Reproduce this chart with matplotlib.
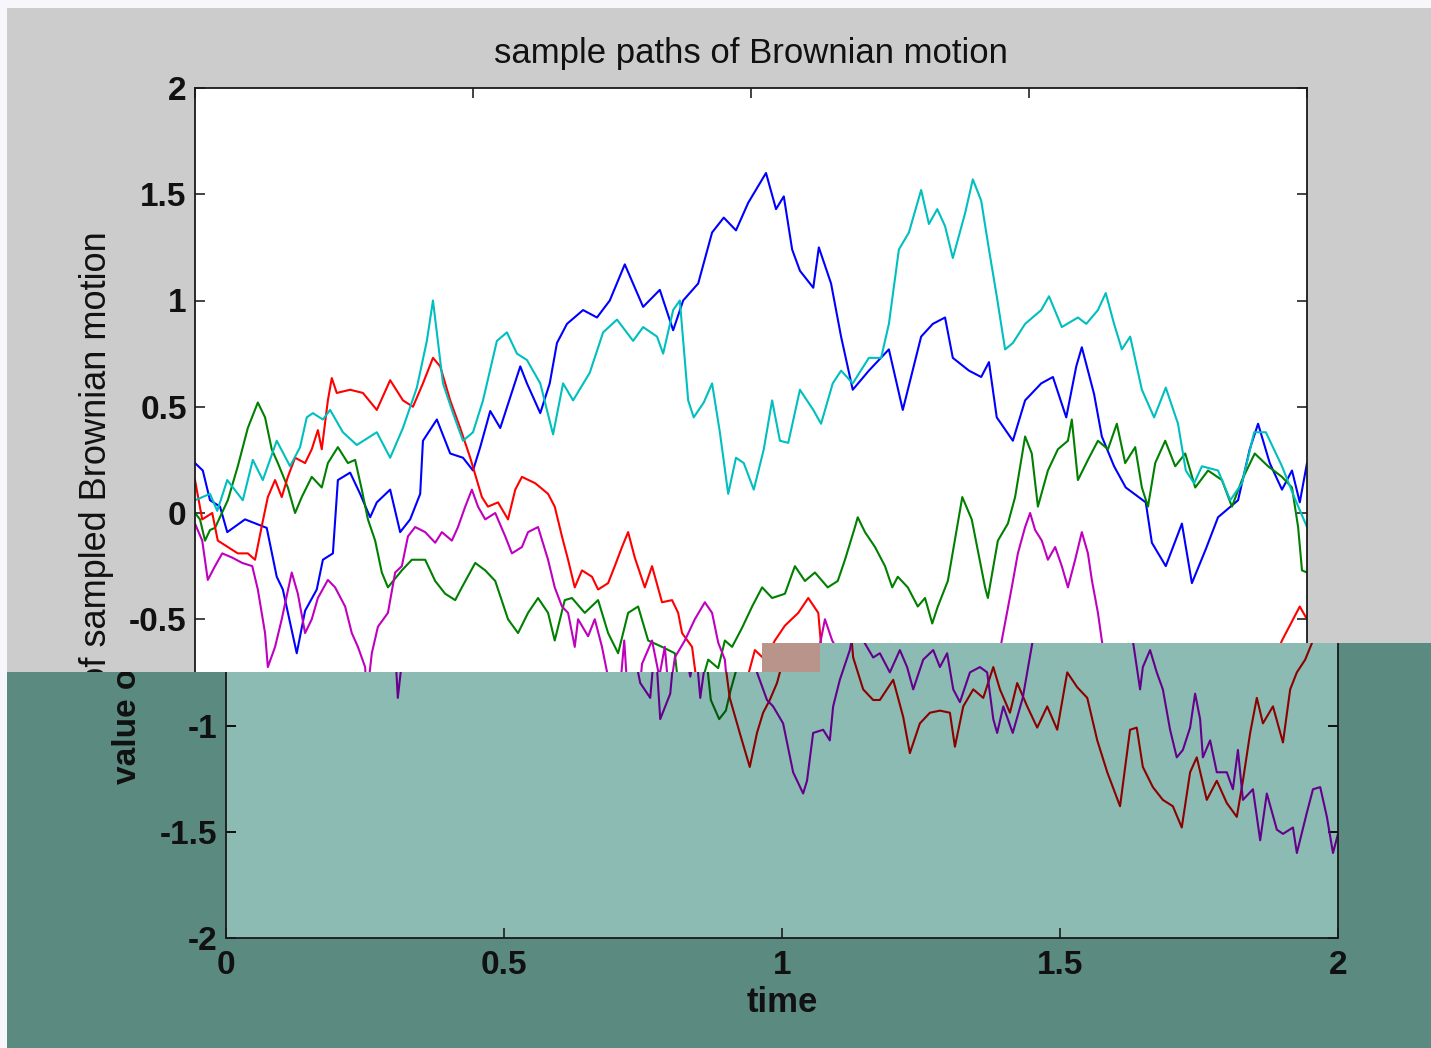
import numpy as np
import matplotlib
matplotlib.use('Agg')
import matplotlib.pyplot as plt
from matplotlib.patches import Polygon, Rectangle
from matplotlib.transforms import Bbox

plt.rcParams['font.family'] = ['Liberation Sans', 'DejaVu Sans']

# (time, value) samples, one list per path
blue_path = [
    (0.000, 0.235), (0.014, 0.20), (0.027, 0.06), (0.045, 0.03), (0.058, -0.09), (0.090, -0.03),
    (0.129, -0.07), (0.147, -0.30), (0.158, -0.36), (0.183, -0.66), (0.198, -0.46), (0.219, -0.36),
    (0.230, -0.22), (0.248, -0.19), (0.257, 0.155), (0.279, 0.19), (0.297, 0.09), (0.315, -0.02),
    (0.327, 0.05), (0.351, 0.11), (0.369, -0.09), (0.387, -0.03), (0.405, 0.09), (0.410, 0.34),
    (0.435, 0.44), (0.459, 0.28), (0.482, 0.26), (0.500, 0.20), (0.513, 0.31), (0.531, 0.48),
    (0.549, 0.40), (0.585, 0.69), (0.597, 0.61), (0.621, 0.47), (0.638, 0.61), (0.651, 0.80),
    (0.669, 0.89), (0.698, 0.955), (0.723, 0.92), (0.746, 1.00), (0.773, 1.17), (0.806, 0.97),
    (0.836, 1.05), (0.860, 0.86), (0.878, 1.00), (0.905, 1.08), (0.930, 1.32), (0.951, 1.39),
    (0.973, 1.33), (0.995, 1.46), (1.027, 1.60), (1.045, 1.43), (1.059, 1.49), (1.074, 1.24),
    (1.088, 1.14), (1.112, 1.06), (1.122, 1.25), (1.144, 1.08), (1.162, 0.83), (1.183, 0.58),
    (1.212, 0.67), (1.248, 0.77), (1.273, 0.485), (1.306, 0.83), (1.327, 0.89), (1.349, 0.92),
    (1.363, 0.73), (1.392, 0.67), (1.414, 0.64), (1.428, 0.71), (1.442, 0.45), (1.471, 0.34),
    (1.493, 0.53), (1.522, 0.61), (1.543, 0.64), (1.567, 0.45), (1.585, 0.69), (1.595, 0.78),
    (1.617, 0.56), (1.631, 0.36), (1.653, 0.22), (1.674, 0.12), (1.710, 0.05), (1.721, -0.14),
    (1.746, -0.25), (1.775, -0.05), (1.793, -0.33), (1.818, -0.17), (1.840, -0.02), (1.876, 0.06),
    (1.897, 0.30), (1.912, 0.42), (1.933, 0.235), (1.955, 0.11), (1.973, 0.20), (1.987, 0.05),
    (2.000, 0.235),
]

green_path = [
    (0.000, 0.00), (0.009, -0.03), (0.018, -0.13), (0.027, -0.08), (0.036, -0.07), (0.059, 0.06),
    (0.077, 0.22), (0.095, 0.40), (0.113, 0.52), (0.126, 0.45), (0.138, 0.30), (0.149, 0.235),
    (0.167, 0.12), (0.180, 0.00), (0.192, 0.075), (0.210, 0.17), (0.228, 0.12), (0.239, 0.235),
    (0.257, 0.31), (0.275, 0.235), (0.288, 0.25), (0.300, 0.11), (0.311, -0.03), (0.324, -0.13),
    (0.336, -0.28), (0.347, -0.35), (0.372, -0.27), (0.390, -0.22), (0.414, -0.22), (0.432, -0.32),
    (0.450, -0.38), (0.468, -0.41), (0.480, -0.35), (0.504, -0.235), (0.522, -0.27), (0.540, -0.32),
    (0.563, -0.50), (0.581, -0.565), (0.599, -0.47), (0.617, -0.40), (0.635, -0.47), (0.647, -0.60),
    (0.665, -0.41), (0.678, -0.40), (0.701, -0.47), (0.725, -0.41), (0.743, -0.565), (0.761, -0.66),
    (0.779, -0.47), (0.797, -0.44), (0.815, -0.60), (0.840, -0.63), (0.863, -0.66), (0.872, -0.88),
    (0.887, -0.97), (0.899, -0.93), (0.908, -0.83), (0.923, -0.69), (0.941, -0.73), (0.953, -0.60),
    (0.966, -0.63), (0.984, -0.54), (1.002, -0.44), (1.020, -0.35), (1.038, -0.40), (1.061, -0.38),
    (1.079, -0.25), (1.097, -0.32), (1.115, -0.28), (1.138, -0.35), (1.156, -0.32), (1.169, -0.22),
    (1.187, -0.066), (1.192, -0.02), (1.205, -0.09), (1.223, -0.16), (1.241, -0.25), (1.254, -0.35),
    (1.264, -0.30), (1.282, -0.35), (1.300, -0.44), (1.313, -0.40), (1.326, -0.52), (1.336, -0.44),
    (1.354, -0.32), (1.380, 0.075), (1.397, -0.03), (1.421, -0.35), (1.426, -0.40), (1.444, -0.13),
    (1.462, -0.05), (1.475, 0.075), (1.493, 0.36), (1.505, 0.28), (1.516, 0.03), (1.534, 0.20),
    (1.552, 0.30), (1.570, 0.34), (1.577, 0.44), (1.588, 0.155), (1.606, 0.25), (1.624, 0.34),
    (1.642, 0.30), (1.658, 0.42), (1.673, 0.235), (1.691, 0.31), (1.703, 0.12), (1.714, 0.03),
    (1.727, 0.235), (1.745, 0.34), (1.763, 0.22), (1.781, 0.28), (1.799, 0.12), (1.822, 0.20),
    (1.847, 0.155), (1.865, 0.03), (1.883, 0.155), (1.906, 0.28), (1.930, 0.22), (1.955, 0.17),
    (1.973, 0.12), (1.984, -0.066), (1.991, -0.27), (2.000, -0.28),
]

red_path = [
    (0.000, 0.155), (0.013, -0.03), (0.031, 0.00), (0.041, -0.13), (0.059, -0.16), (0.077, -0.19),
    (0.095, -0.19), (0.108, -0.22), (0.121, -0.05), (0.131, 0.075), (0.144, 0.155), (0.156, 0.075),
    (0.167, 0.17), (0.180, 0.26), (0.198, 0.235), (0.210, 0.30), (0.221, 0.39), (0.228, 0.30),
    (0.239, 0.53), (0.246, 0.635), (0.255, 0.565), (0.279, 0.58), (0.302, 0.565), (0.327, 0.485),
    (0.351, 0.625), (0.374, 0.53), (0.392, 0.50), (0.410, 0.61), (0.428, 0.73), (0.441, 0.69),
    (0.459, 0.53), (0.477, 0.40), (0.495, 0.26), (0.516, 0.075), (0.527, 0.03), (0.545, 0.05),
    (0.563, -0.03), (0.576, 0.11), (0.588, 0.17), (0.612, 0.14), (0.635, 0.09), (0.647, 0.03),
    (0.660, -0.11), (0.671, -0.22), (0.683, -0.35), (0.696, -0.27), (0.714, -0.30), (0.725, -0.36),
    (0.743, -0.33), (0.755, -0.25), (0.768, -0.16), (0.779, -0.09), (0.791, -0.21), (0.809, -0.35),
    (0.822, -0.25), (0.840, -0.42), (0.858, -0.41), (0.869, -0.47), (0.876, -0.565), (0.894, -0.63),
    (0.906, -0.87), (0.924, -1.035), (0.942, -1.195), (0.955, -1.035), (0.966, -0.94), (0.978, -0.88),
    (0.991, -0.80), (1.007, -0.645), (1.025, -0.69), (1.043, -0.60), (1.061, -0.53), (1.085, -0.47),
    (1.103, -0.40), (1.121, -0.47), (1.128, -0.68), (1.146, -0.83), (1.164, -0.88), (1.176, -0.88),
    (1.200, -0.785), (1.218, -0.96), (1.230, -1.13), (1.248, -0.99), (1.266, -0.94), (1.284, -0.93),
    (1.302, -0.94), (1.311, -1.10), (1.326, -0.91), (1.344, -0.83), (1.362, -0.87), (1.380, -0.725),
    (1.392, -0.83), (1.410, -0.94), (1.423, -0.80), (1.441, -0.91), (1.459, -1.01), (1.477, -0.91),
    (1.495, -1.02), (1.513, -0.75), (1.531, -0.82), (1.549, -0.87), (1.567, -1.07), (1.585, -1.22),
    (1.608, -1.38), (1.626, -1.02), (1.638, -1.01), (1.649, -1.195), (1.667, -1.29), (1.685, -1.35),
    (1.703, -1.38), (1.719, -1.48), (1.734, -1.22), (1.746, -1.15), (1.764, -1.35), (1.782, -1.26),
    (1.800, -1.365), (1.818, -1.43), (1.829, -1.26), (1.842, -1.035), (1.854, -0.87), (1.865, -0.99),
    (1.883, -0.91), (1.901, -1.08), (1.914, -0.83), (1.926, -0.75), (1.941, -0.69), (1.955, -0.60),
    (1.969, -0.53), (1.987, -0.44), (2.000, -0.50),
]

cyan_path = [
    (0.000, 0.06), (0.027, 0.09), (0.040, 0.01), (0.058, 0.155), (0.086, 0.06), (0.104, 0.25),
    (0.122, 0.155), (0.147, 0.34), (0.171, 0.22), (0.189, 0.31), (0.201, 0.45), (0.212, 0.47),
    (0.230, 0.44), (0.243, 0.485), (0.266, 0.38), (0.291, 0.32), (0.327, 0.38), (0.351, 0.26),
    (0.374, 0.40), (0.399, 0.59), (0.417, 0.81), (0.428, 1.00), (0.446, 0.61), (0.464, 0.47),
    (0.482, 0.34), (0.500, 0.38), (0.518, 0.53), (0.543, 0.81), (0.561, 0.85), (0.579, 0.75),
    (0.597, 0.72), (0.621, 0.61), (0.644, 0.37), (0.662, 0.61), (0.680, 0.53), (0.710, 0.66),
    (0.734, 0.85), (0.759, 0.91), (0.788, 0.81), (0.806, 0.875), (0.831, 0.83), (0.842, 0.75),
    (0.860, 0.955), (0.872, 1.00), (0.887, 0.53), (0.897, 0.45), (0.915, 0.52), (0.930, 0.61),
    (0.944, 0.38), (0.959, 0.09), (0.973, 0.26), (0.987, 0.235), (1.005, 0.11), (1.023, 0.30),
    (1.038, 0.53), (1.052, 0.34), (1.067, 0.33), (1.088, 0.58), (1.112, 0.485), (1.126, 0.42),
    (1.147, 0.61), (1.162, 0.67), (1.183, 0.61), (1.212, 0.73), (1.234, 0.73), (1.248, 0.89),
    (1.266, 1.24), (1.284, 1.32), (1.306, 1.52), (1.320, 1.36), (1.335, 1.43), (1.349, 1.35),
    (1.363, 1.20), (1.385, 1.41), (1.399, 1.57), (1.414, 1.47), (1.428, 1.24), (1.442, 1.02),
    (1.457, 0.77), (1.471, 0.80), (1.493, 0.89), (1.522, 0.955), (1.536, 1.02), (1.559, 0.875),
    (1.588, 0.92), (1.603, 0.89), (1.624, 0.955), (1.638, 1.035), (1.653, 0.89), (1.667, 0.77),
    (1.682, 0.83), (1.703, 0.58), (1.725, 0.45), (1.746, 0.59), (1.768, 0.42), (1.782, 0.20),
    (1.797, 0.14), (1.811, 0.22), (1.840, 0.20), (1.862, 0.06), (1.883, 0.14), (1.905, 0.38),
    (1.926, 0.38), (1.955, 0.22), (1.977, 0.075), (2.000, -0.066),
]

magenta_path = [
    (0.000, -0.05), (0.013, -0.13), (0.023, -0.315), (0.036, -0.25), (0.049, -0.19), (0.067, -0.21),
    (0.085, -0.235), (0.103, -0.25), (0.113, -0.36), (0.126, -0.565), (0.131, -0.725), (0.144, -0.63),
    (0.156, -0.50), (0.174, -0.28), (0.185, -0.38), (0.198, -0.565), (0.210, -0.50), (0.221, -0.40),
    (0.239, -0.315), (0.252, -0.35), (0.270, -0.44), (0.282, -0.565), (0.293, -0.63), (0.306, -0.725),
    (0.309, -0.87), (0.318, -0.66), (0.329, -0.535), (0.347, -0.47), (0.360, -0.28), (0.372, -0.25),
    (0.383, -0.11), (0.396, -0.066), (0.414, -0.09), (0.432, -0.14), (0.444, -0.09), (0.462, -0.13),
    (0.473, -0.066), (0.486, 0.03), (0.498, 0.11), (0.509, 0.03), (0.522, -0.03), (0.540, 0.00),
    (0.558, -0.11), (0.570, -0.19), (0.588, -0.16), (0.599, -0.09), (0.617, -0.066), (0.635, -0.22),
    (0.647, -0.35), (0.660, -0.44), (0.671, -0.47), (0.683, -0.63), (0.689, -0.50), (0.707, -0.58),
    (0.719, -0.50), (0.732, -0.63), (0.745, -0.80), (0.763, -0.87), (0.772, -0.60), (0.781, -0.97),
    (0.799, -0.85), (0.804, -0.71), (0.822, -0.60), (0.835, -0.77), (0.845, -0.63), (0.853, -0.87),
    (0.863, -0.68), (0.881, -0.60), (0.899, -0.50), (0.917, -0.42), (0.930, -0.47), (0.941, -0.61),
    (0.953, -0.69), (0.955, -0.75), (0.973, -0.88), (0.984, -0.91), (1.002, -0.99), (1.020, -1.22),
    (1.038, -1.32), (1.045, -1.26), (1.056, -1.035), (1.074, -1.02), (1.086, -1.07), (1.092, -0.91),
    (1.104, -0.785), (1.122, -0.645), (1.133, -0.50), (1.146, -0.60), (1.164, -0.68), (1.176, -0.66),
    (1.194, -0.75), (1.212, -0.645), (1.225, -0.725), (1.236, -0.83), (1.254, -0.69), (1.272, -0.645),
    (1.284, -0.725), (1.297, -0.66), (1.308, -0.83), (1.320, -0.89), (1.338, -0.75), (1.356, -0.725),
    (1.369, -0.75), (1.380, -0.97), (1.387, -1.035), (1.398, -0.91), (1.415, -1.035), (1.433, -0.87),
    (1.441, -0.75), (1.451, -0.60), (1.469, -0.35), (1.480, -0.19), (1.493, -0.066), (1.502, 0.00),
    (1.511, -0.08), (1.523, -0.13), (1.534, -0.22), (1.547, -0.16), (1.559, -0.25), (1.570, -0.35),
    (1.583, -0.22), (1.595, -0.09), (1.606, -0.19), (1.613, -0.315), (1.624, -0.47), (1.631, -0.60),
    (1.644, -0.83), (1.649, -0.725), (1.662, -0.645), (1.674, -0.75), (1.685, -0.83), (1.698, -1.02),
    (1.710, -1.15), (1.721, -1.115), (1.734, -1.01), (1.743, -0.85), (1.752, -0.97), (1.757, -1.15),
    (1.770, -1.07), (1.782, -1.22), (1.800, -1.22), (1.811, -1.30), (1.820, -1.115), (1.829, -1.35),
    (1.847, -1.30), (1.860, -1.54), (1.872, -1.32), (1.890, -1.49), (1.901, -1.51), (1.919, -1.48),
    (1.926, -1.60), (1.944, -1.41), (1.955, -1.30), (1.968, -1.29), (1.980, -1.43), (1.991, -1.60),
    (2.000, -1.51),
]

paths = [blue_path, green_path, red_path, cyan_path, magenta_path]
colors_top = ['#0000ff', '#008000', '#ff0000', '#00bfbf', '#bf00bf']
colors_tinted = ['#0000b0', '#005a08', '#8c0000', '#008c86', '#64008c']

x_ticks = [0, 0.5, 1, 1.5, 2]
x_tick_labels = ['0', '0.5', '1', '1.5', '2']
y_ticks = [-2, -1.5, -1, -0.5, 0, 0.5, 1, 1.5, 2]
y_tick_labels = ['-2', '-1.5', '-1', '-0.5', '0', '0.5', '1', '1.5', '2']

title = 'sample paths of Brownian motion'
x_label = 'time'
y_label = 'value of sampled Brownian motion'

# canvas in pixels
W, H = 1431, 1048
CUT_LEFT, CUT_RIGHT, CUT_X = 672, 643, 762


def fx(px):
    return px / W


def fy(py):
    return 1 - py / H


def setup_axes(ax, colors, face, show_y, show_x, ylabel_size, ylabel_weight):
    for path, c in zip(paths, colors):
        arr = np.array(path)
        ax.plot(arr[:, 0], arr[:, 1], color=c, lw=1.5)
    ax.set_facecolor(face)
    ax.set_xlim(0, 2)
    ax.set_ylim(-2, 2)
    ax.set_xticks(x_ticks)
    ax.set_xticklabels(x_tick_labels if show_x else [''] * len(x_ticks))
    ax.set_yticks(y_ticks)
    ax.set_yticklabels([lab if show_y(v) else '' for v, lab in zip(y_ticks, y_tick_labels)])
    ax.tick_params(direction='in', length=7, width=1.1, top=True, right=True,
                   labelsize=24, colors='#111111')
    ax.tick_params(axis='x', pad=9)
    ax.tick_params(axis='y', pad=6)
    for lab in ax.get_xticklabels() + ax.get_yticklabels():
        lab.set_fontweight('bold')
    for sp in ax.spines.values():
        sp.set_color('#1a1a1a')
        sp.set_linewidth(1.3)
    ax.set_ylabel(y_label, fontsize=ylabel_size, fontweight=ylabel_weight, color='#111111')
    ax.yaxis.label.set_verticalalignment('center')
    ax.yaxis.set_label_coords(-(195 - 97) / 1112, (938 - 507) / 850)


fig = plt.figure(figsize=(W / 100, H / 100), dpi=100, facecolor='#f6f6fb')

# grey MATLAB figure window
fig.add_artist(Rectangle((fx(7), 0), 1 - fx(7), fy(8), transform=fig.transFigure,
                         facecolor='#cccccc', edgecolor='none', zorder=-1))

ax1 = fig.add_axes([fx(195), fy(938), fx(1307) - fx(195), fy(88) - fy(938)])
ax1.set_zorder(0)
setup_axes(ax1, colors_top, 'white', lambda v: v > -0.75, False, 26, 'normal')
ax1.set_title(title, fontsize=25, pad=18, color='#111111')

# teal overlay covering the lower part of the screenshot
step = [(fx(7), fy(H)), (fx(7), fy(CUT_LEFT)), (fx(CUT_X), fy(CUT_LEFT)), (fx(CUT_X), fy(CUT_RIGHT)),
        (fx(W), fy(CUT_RIGHT)), (fx(W), fy(H))]
fig.add_artist(Polygon(step, closed=True, transform=fig.transFigure,
                       facecolor='#5b8a81', edgecolor='none', zorder=1))
fig.add_artist(Rectangle((fx(CUT_X), fy(CUT_LEFT)), fx(820) - fx(CUT_X), fy(CUT_RIGHT) - fy(CUT_LEFT),
                         transform=fig.transFigure, facecolor='#b9948a',
                         edgecolor='none', zorder=3))

# shifted, tinted copy of the plot, visible only inside the teal area
ax2 = fig.add_axes([fx(226), fy(938), fx(1338) - fx(226), fy(88) - fy(938)])
ax2.set_zorder(2)
setup_axes(ax2, colors_tinted, '#8bbbb3', lambda v: v < -0.75, True, 24, 'bold')
ax2.set_xlabel(x_label, fontsize=25, fontweight='bold', color='#111111')
ax2.xaxis.label.set_verticalalignment('center')
ax2.xaxis.set_label_coords(0.5, -(1003 - 938) / 850)

clip_poly = Polygon(step, closed=True, transform=fig.transFigure)
artists = [ax2.patch] + list(ax2.lines) + list(ax2.spines.values())
artists += list(ax2.get_xticklines()) + list(ax2.get_yticklines())
for a in artists:
    a.set_clip_path(clip_poly)

text_box = Bbox([[0, 0], [W, H - CUT_LEFT]])
texts = [ax2.yaxis.label, ax2.xaxis.label] + ax2.get_xticklabels() + ax2.get_yticklabels()
for t in texts:
    t.set_clip_on(True)
    t.set_clip_box(text_box)

fig.savefig('out.png', dpi=100, facecolor=fig.get_facecolor())
